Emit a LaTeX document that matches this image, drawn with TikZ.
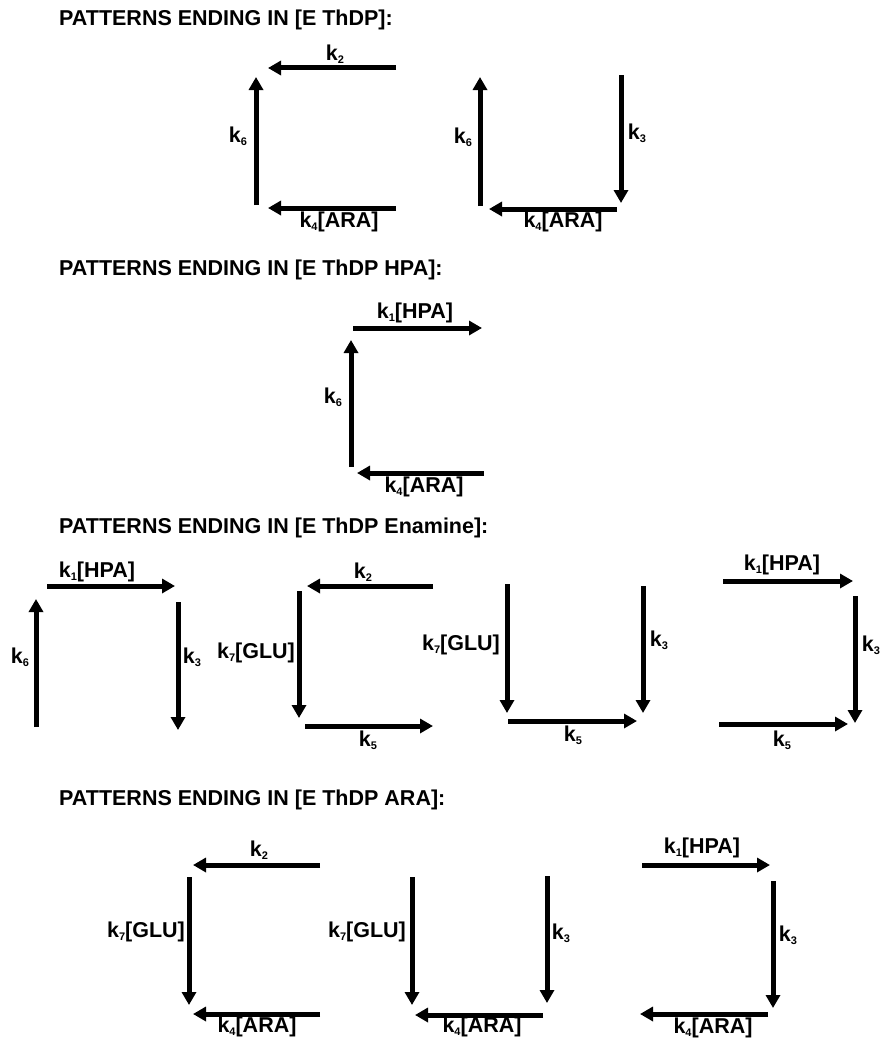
\documentclass[tikz,border=0pt]{standalone}
\usepackage{fontspec}
\setmainfont{Liberation Sans}
\usetikzlibrary{arrows.meta}
\newcommand{\kk}[1]{k\raisebox{-3pt}{\fontsize{11}{13}\selectfont #1}}
\tikzset{
  rxn/.style={line width=5pt, -{Triangle[length=13pt,width=14pt]}},
  lbl/.style={font=\fontsize{21.5}{25}\selectfont\bfseries, inner sep=0pt},
  head/.style={font=\fontsize{21.5}{25}\selectfont\bfseries, anchor=west, inner sep=0pt}
}
\begin{document}
\begin{tikzpicture}[x=1pt,y=-1pt]
\useasboundingbox (0,0) rectangle (880,1041);

% ---------- section 1 ----------
\node[head] (h1) at (59,20) {PATTERNS ENDING IN [E ThDP]:};
% pattern 1a
\coordinate (p1a) at (396,68);  \coordinate (p1b) at (268,68);
\coordinate (p1c) at (256,205); \coordinate (p1d) at (256,77);
\coordinate (p1e) at (396,208); \coordinate (p1f) at (268,208);
\draw[rxn] (p1a) -- (p1b);
\draw[rxn] (p1c) -- (p1d);
\draw[rxn] (p1e) -- (p1f);
\node[lbl] (l1a) at (335,54) {\kk2};
\node[lbl] (l1b) at (238,136) {\kk6};
\node[lbl] (l1c) at (339,222) {\kk4[ARA]};
% pattern 1b
\coordinate (p2a) at (480,206); \coordinate (p2b) at (480,77);
\coordinate (p2c) at (621,75);  \coordinate (p2d) at (621,203);
\coordinate (p2e) at (617,209); \coordinate (p2f) at (489,209);
\draw[rxn] (p2a) -- (p2b);
\draw[rxn] (p2c) -- (p2d);
\draw[rxn] (p2e) -- (p2f);
\node[lbl] (l2a) at (463,137) {\kk6};
\node[lbl] (l2b) at (637,133) {\kk3};
\node[lbl] (l2c) at (563,222) {\kk4[ARA]};

% ---------- section 2 ----------
\node[head] (h2) at (59,270) {PATTERNS ENDING IN [E ThDP HPA]:};
\coordinate (p3a) at (353,328); \coordinate (p3b) at (482,328);
\coordinate (p3c) at (351,467); \coordinate (p3d) at (351,340);
\coordinate (p3e) at (484,473); \coordinate (p3f) at (357,473);
\draw[rxn] (p3a) -- (p3b);
\draw[rxn] (p3c) -- (p3d);
\draw[rxn] (p3e) -- (p3f);
\node[lbl] (l3a) at (415,313) {\kk1[HPA]};
\node[lbl] (l3b) at (333,397) {\kk6};
\node[lbl] (l3c) at (424,487) {\kk4[ARA]};

% ---------- section 3 ----------
\node[head] (h3) at (59,528) {PATTERNS ENDING IN [E ThDP Enamine]:};
% pattern 3a
\coordinate (p4a) at (47,586);  \coordinate (p4b) at (175,586);
\coordinate (p4c) at (36,727);  \coordinate (p4d) at (36,599);
\coordinate (p4e) at (178,602); \coordinate (p4f) at (178,730);
\draw[rxn] (p4a) -- (p4b);
\draw[rxn] (p4c) -- (p4d);
\draw[rxn] (p4e) -- (p4f);
\node[lbl] (l4a) at (97,572) {\kk1[HPA]};
\node[lbl] (l4b) at (20,657) {\kk6};
\node[lbl] (l4c) at (192,657) {\kk3};
% pattern 3b
\coordinate (p5a) at (433,586); \coordinate (p5b) at (307,586);
\coordinate (p5c) at (299,591); \coordinate (p5d) at (299,718);
\coordinate (p5e) at (305,726); \coordinate (p5f) at (433,726);
\draw[rxn] (p5a) -- (p5b);
\draw[rxn] (p5c) -- (p5d);
\draw[rxn] (p5e) -- (p5f);
\node[lbl] (l5a) at (363,572) {\kk2};
\node[lbl] (l5b) at (256,653) {\kk7[GLU]};
\node[lbl] (l5c) at (368,740) {\kk5};
% pattern 3c
\coordinate (p6a) at (507,584); \coordinate (p6b) at (507,713);
\coordinate (p6c) at (643,586); \coordinate (p6d) at (643,713);
\coordinate (p6e) at (508,721); \coordinate (p6f) at (637,721);
\draw[rxn] (p6a) -- (p6b);
\draw[rxn] (p6c) -- (p6d);
\draw[rxn] (p6e) -- (p6f);
\node[lbl] (l6a) at (461,645) {\kk7[GLU]};
\node[lbl] (l6b) at (659,640) {\kk3};
\node[lbl] (l6c) at (573,735) {\kk5};
% pattern 3d
\coordinate (p7a) at (723,581); \coordinate (p7b) at (853,581);
\coordinate (p7c) at (855,596); \coordinate (p7d) at (855,723);
\coordinate (p7e) at (719,724); \coordinate (p7f) at (848,724);
\draw[rxn] (p7a) -- (p7b);
\draw[rxn] (p7c) -- (p7d);
\draw[rxn] (p7e) -- (p7f);
\node[lbl] (l7a) at (782,565) {\kk1[HPA]};
\node[lbl] (l7b) at (871,645) {\kk3};
\node[lbl] (l7c) at (782,740) {\kk5};

% ---------- section 4 ----------
\node[head] (h4) at (59,800) {PATTERNS ENDING IN [E ThDP ARA]:};
% pattern 4a
\coordinate (p8a) at (320,865); \coordinate (p8b) at (193,865);
\coordinate (p8c) at (189,877); \coordinate (p8d) at (189,1005);
\coordinate (p8e) at (320,1014); \coordinate (p8f) at (193,1014);
\draw[rxn] (p8a) -- (p8b);
\draw[rxn] (p8c) -- (p8d);
\draw[rxn] (p8e) -- (p8f);
\node[lbl] (l8a) at (259,850) {\kk2};
\node[lbl] (l8b) at (146,932) {\kk7[GLU]};
\node[lbl] (l8c) at (257,1027) {\kk4[ARA]};
% pattern 4b
\coordinate (p9a) at (412,877); \coordinate (p9b) at (412,1005);
\coordinate (p9c) at (547,876); \coordinate (p9d) at (547,1003);
\coordinate (p9e) at (543,1015); \coordinate (p9f) at (415,1015);
\draw[rxn] (p9a) -- (p9b);
\draw[rxn] (p9c) -- (p9d);
\draw[rxn] (p9e) -- (p9f);
\node[lbl] (l9a) at (367,932) {\kk7[GLU]};
\node[lbl] (l9b) at (561,933) {\kk3};
\node[lbl] (l9c) at (482,1027) {\kk4[ARA]};
% pattern 4c
\coordinate (q1a) at (642,865); \coordinate (q1b) at (770,865);
\coordinate (q1c) at (773,881); \coordinate (q1d) at (773,1008);
\coordinate (q1e) at (768,1014); \coordinate (q1f) at (640,1014);
\draw[rxn] (q1a) -- (q1b);
\draw[rxn] (q1c) -- (q1d);
\draw[rxn] (q1e) -- (q1f);
\node[lbl] (m1a) at (702,848) {\kk1[HPA]};
\node[lbl] (m1b) at (788,935) {\kk3};
\node[lbl] (m1c) at (713,1028) {\kk4[ARA]};
\end{tikzpicture}
\end{document}
